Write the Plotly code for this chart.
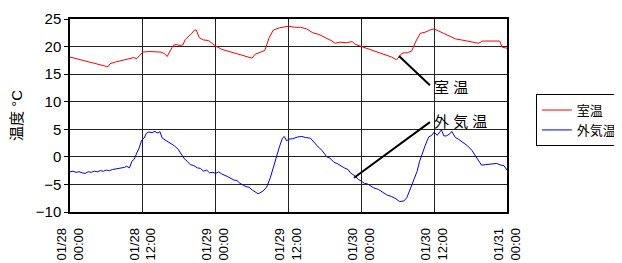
import plotly.graph_objects as go
import pandas as pd

base = pd.Timestamp("2024-01-28 00:00")

# Indoor temperature (室温): hours from 01/28 00:00, value °C
room_h = [0, 1, 2, 3, 4, 5, 6, 6.3, 6.6, 7.5, 8.5, 9.5, 10.5, 11, 12, 13, 14, 15, 15.6, 16, 16.6, 17, 17.5, 18, 18.6,
          19, 20, 20.5, 20.8, 21.3, 22, 22.8, 23.5, 24, 25, 26, 27, 28, 29, 30, 30.5, 31.5, 32.1, 32.8, 33.5, 34.5, 36,
          37, 38, 39, 40, 41, 42, 43, 43.7, 44.5, 45.5, 46.5, 47, 48, 49, 50, 51, 52, 53, 53.8, 54.3, 54.7, 55.6, 56.3,
          57, 57.7, 58.5, 59.3, 60, 60.8, 61.5, 62.5, 63.5, 64.5, 65.5, 66.5, 67.3, 68, 69, 70, 70.8, 71.2, 72]
room_v = [18.1, 17.8, 17.5, 17.2, 16.9, 16.7, 16.4, 16.4, 16.9, 17.2, 17.5, 17.8, 18.0, 17.8, 19.0, 19.1, 19.1, 19.0, 18.7,
          18.2, 19.4, 20.2, 20.4, 20.2, 20.3, 21.3, 22.3, 23.0, 23.0, 21.6, 21.2, 21.1, 20.5, 20.1, 19.5, 19.2, 18.9, 18.6,
          18.3, 17.9, 18.6, 19.0, 19.3, 21.6, 23.0, 23.4, 23.7, 23.5, 23.5, 23.2, 22.5, 22.2, 21.7, 21.1, 20.6, 20.8, 20.7,
          20.9, 20.4, 20.0, 19.6, 19.2, 18.9, 18.5, 18.1, 17.6, 18.3, 18.8, 18.9, 19.2, 21.0, 22.4, 22.6, 23.0, 23.2, 22.8,
          22.4, 22.0, 21.4, 21.2, 21.0, 20.8, 20.6, 21.0, 21.0, 21.0, 21.0, 19.9, 19.7]

# Outdoor temperature (外気温)
out_h = [0, 0.5, 1, 1.5, 2, 2.5, 3, 3.5, 4, 4.5, 5, 5.5, 6, 6.5, 7, 7.5, 8, 8.5, 9, 9.3, 9.8, 10.2, 10.6, 11, 11.4, 11.8,
         12.2, 12.6, 13, 13.5, 14, 14.5, 14.8, 15.2, 15.8, 16.5, 17.2, 17.8, 18.3, 18.8, 19.3, 19.8, 20.4, 21, 21.5, 22,
         22.5, 23, 23.5, 24, 24.5, 25, 26, 27, 27.5, 28, 29, 29.5, 30, 31, 31.8, 32.4, 33, 33.5, 34, 34.5, 35, 35.3, 35.7,
         36, 36.7, 37.5, 38.2, 38.8, 39.6, 40.2, 40.9, 41.5, 42.3, 42.8, 43.5, 44, 44.5, 45.2, 45.8, 46.2, 47, 47.5, 48,
         48.5, 49, 49.5, 50, 50.8, 51.5, 52.2, 53, 53.7, 54.3, 55, 55.5, 56, 56.6, 57.2, 57.6, 58, 58.5, 59.1, 59.6, 60,
         60.5, 61.2, 61.6, 62, 62.5, 62.9, 63.5, 64, 64.7, 65.5, 66.2, 66.8, 67.3, 67.8, 68.5, 69.2, 70.3, 71, 71.5, 72]
out_v = [-2.7, -2.6, -2.8, -2.7, -2.9, -3.0, -2.7, -2.8, -2.6, -2.7, -2.5, -2.6, -2.4, -2.5, -2.3, -2.2, -2.1, -1.9, -1.9,
         -1.7, -2.0, -0.8, -0.4, 0.7, 1.6, 3.0, 3.4, 4.3, 4.5, 4.4, 4.6, 4.3, 4.6, 3.4, 3.0, 2.6, 2.0, 1.4, 0.6, -0.3,
         -0.8, -1.4, -1.6, -2.0, -2.1, -2.6, -2.4, -2.9, -2.8, -3.0, -2.7, -3.1, -3.6, -4.2, -4.3, -4.8, -5.4, -5.5, -6.0,
         -6.7, -6.2, -5.5, -3.8, -1.8, -0.1, 1.8, 3.4, 3.7, 2.9, 3.2, 3.3, 3.6, 3.7, 3.5, 3.4, 2.6, 1.8, 1.2, 0.0, -0.2,
         -1.0, -1.2, -1.6, -2.0, -2.3, -2.9, -3.5, -4.1, -4.4, -4.8, -4.9, -5.3, -5.6, -5.9, -6.4, -6.9, -7.2, -7.6, -8.1,
         -8.0, -7.4, -6.0, -4.6, -2.6, -0.8, 0.6, 2.0, 3.6, 3.9, 4.5, 3.9, 4.9, 3.8, 3.8, 4.1, 4.6, 3.5, 3.2, 2.7, 2.0,
         1.2, 0.2, -0.8, -1.5, -1.4, -1.3, -1.2, -1.5, -1.6, -2.4]

tick_h = [0, 12, 24, 36, 48, 60, 72]
tick_text = ["01/28<br>00:00", "01/28<br>12:00", "01/29<br>00:00", "01/29<br>12:00",
             "01/30<br>00:00", "01/30<br>12:00", "01/31<br>00:00"]


def t(h):
    return base + pd.Timedelta(hours=h)


FONT = "Liberation Sans, Arial, Noto Sans CJK JP, sans-serif"

fig = go.Figure()
fig.add_trace(go.Scatter(x=[t(h) for h in room_h], y=room_v, mode="lines", name="室温",
                         line=dict(color="#ff0000", width=1)))
fig.add_trace(go.Scatter(x=[t(h) for h in out_h], y=out_v, mode="lines", name="外気温",
                         line=dict(color="#0000ff", width=1)))

# callout lines
fig.add_shape(type="line", x0=t(54.2), y0=18.3, x1=t(59.3), y1=13.0, line=dict(color="black", width=2))
fig.add_shape(type="line", x0=t(46.8), y0=-3.8, x1=t(59.3), y1=6.3, line=dict(color="black", width=2))
fig.add_annotation(x=t(59.7), y=12.5, text="室 温", showarrow=False, xanchor="left", yanchor="middle",
                   font=dict(size=15, color="black", family=FONT))
fig.add_annotation(x=t(59.7), y=6.5, text="外 気 温", showarrow=False, xanchor="left", yanchor="middle",
                   font=dict(size=15, color="black", family=FONT))

fig.update_layout(
    width=622, height=263,
    margin=dict(l=62, r=123, t=11, b=59, autoexpand=False),
    paper_bgcolor="white", plot_bgcolor="white",
    font=dict(family=FONT, size=14, color="black"),
    showlegend=True,
    legend=dict(x=1.066, y=0.611, xanchor="left", yanchor="top", bordercolor="black", borderwidth=1,
                bgcolor="white", font=dict(size=13), tracegroupgap=0, itemwidth=30),
    xaxis=dict(range=[t(0), t(72)], tickmode="array", tickvals=[t(h) for h in tick_h], ticktext=tick_text,
               tickangle=-90, showgrid=True, gridcolor="#222222", gridwidth=1, showline=True, linecolor="black",
               linewidth=1.5, mirror=True, ticks="", ticklabelstandoff=9, tickfont=dict(size=13),
               automargin=False),
    yaxis=dict(range=[-10, 25], tickmode="linear", tick0=-10, dtick=5, showgrid=True, gridcolor="#222222",
               gridwidth=1, zeroline=False, showline=True, linecolor="black", linewidth=1.5, mirror=True,
               ticks="outside", ticklen=4, tickcolor="black", automargin=False,
               title=dict(text="温度 °C", font=dict(size=15), standoff=12), tickfont=dict(size=15)),
)

fig.write_html("out.html")
